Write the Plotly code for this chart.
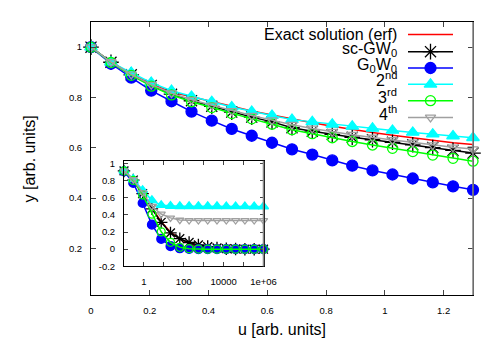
import plotly.graph_objects as go

# ---------------- data ----------------
u_main = [0.000, 0.068, 0.137, 0.205, 0.274, 0.342, 0.411, 0.479, 0.547, 0.616,
          0.684, 0.753, 0.821, 0.889, 0.958, 1.026, 1.095, 1.163, 1.232, 1.300]
exact = [1.000, 0.941, 0.893, 0.854, 0.822, 0.803, 0.783, 0.764, 0.746, 0.730,
         0.714, 0.700, 0.686, 0.673, 0.661, 0.650, 0.639, 0.629, 0.620, 0.613]
sc_gw0 = [1.000, 0.940, 0.890, 0.848, 0.813, 0.787, 0.765, 0.742, 0.722, 0.703,
          0.680, 0.666, 0.653, 0.642, 0.632, 0.622, 0.612, 0.601, 0.590, 0.579]
g0w0 = [1.000, 0.934, 0.879, 0.827, 0.785, 0.744, 0.708, 0.675, 0.648, 0.620,
        0.594, 0.573, 0.550, 0.529, 0.510, 0.494, 0.478, 0.463, 0.447, 0.433]
second = [1.000, 0.940, 0.899, 0.859, 0.827, 0.804, 0.783, 0.762, 0.744, 0.728,
          0.712, 0.703, 0.693, 0.685, 0.677, 0.669, 0.661, 0.654, 0.647, 0.640]
third = [1.000, 0.939, 0.888, 0.845, 0.810, 0.783, 0.760, 0.736, 0.715, 0.694,
         0.672, 0.656, 0.640, 0.625, 0.611, 0.598, 0.585, 0.571, 0.558, 0.547]
fourth = [1.000, 0.941, 0.892, 0.851, 0.817, 0.791, 0.769, 0.747, 0.728, 0.710,
          0.692, 0.677, 0.664, 0.652, 0.641, 0.631, 0.621, 0.611, 0.602, 0.595]

u_inset = [0.1, 0.293, 0.858, 2.51, 7.36, 21.5, 63.1, 185, 541, 1585, 4642,
           13594, 39811, 116591, 341455, 1000000]
exact_in = [0.913, 0.812, 0.645, 0.490, 0.320, 0.200, 0.120, 0.065, 0.035, 0.017,
            0.007, 0.002, 0.0, 0.0, 0.0, 0.0]
sc_gw0_in = [0.913, 0.806, 0.647, 0.470, 0.313, 0.190, 0.122, 0.078, 0.050, 0.030,
             0.015, 0.006, 0.002, 0.0, 0.0, 0.0]
g0w0_in = [0.907, 0.773, 0.539, 0.286, 0.120, 0.035, 0.010, 0.002, 0.0, 0.0,
           0.0, 0.0, 0.0, 0.0, 0.0, 0.0]
second_in = [0.915, 0.818, 0.689, 0.570, 0.513, 0.503, 0.500, 0.500, 0.500, 0.500,
             0.500, 0.499, 0.498, 0.498, 0.497, 0.497]
third_in = [0.912, 0.802, 0.632, 0.409, 0.202, 0.080, 0.022, 0.006, 0.001, 0.0,
            0.0, 0.0, 0.0, 0.0, 0.0, 0.0]
fourth_in = [0.915, 0.812, 0.660, 0.500, 0.410, 0.365, 0.340, 0.335, 0.335, 0.335,
             0.335, 0.335, 0.335, 0.335, 0.335, 0.335]

main_xticks = [0, 0.2, 0.4, 0.6, 0.8, 1.0, 1.2]
main_xtext = ["0", "0.2", "0.4", "0.6", "0.8", "1", "1.2"]
main_yticks = [0.2, 0.4, 0.6, 0.8, 1.0]
main_ytext = ["0.2", "0.4", "0.6", "0.8", "1"]
inset_xticks = [1, 10, 100, 1000, 10000, 100000, 1000000]
inset_xtext = ["1", "", "100", "", "10000", "", "1e+06"]
inset_yticks = [-0.2, 0, 0.2, 0.4, 0.6, 0.8, 1.0]
inset_ytext = ["-0.2", "0", "0.2", "0.4", "0.6", "0.8", "1"]

labels = ["Exact solution (erf)", "sc-GW<sub>0</sub>", "G<sub>0</sub>W<sub>0</sub>",
          "2<sup>nd</sup>", "3<sup>rd</sup>", "4<sup>th</sup>"]

# ---------------- styles ----------------
styles = [
    dict(color="#ff0000", symbol=None, size=0),
    dict(color="#000000", symbol="asterisk-open", size=13),
    dict(color="#0000ff", symbol="circle", size=11),
    dict(color="#00ffff", symbol="triangle-up", size=11),
    dict(color="#00ff00", symbol="circle-open", size=10),
    dict(color="#a0a0a0", symbol="triangle-down-open", size=9),
]
main_series = [exact, sc_gw0, g0w0, second, third, fourth]
inset_series = [exact_in, sc_gw0_in, g0w0_in, second_in, third_in, fourth_in]

FONT = "Liberation Sans, Arial, Helvetica, sans-serif"
fig = go.Figure()


def marker_of(st, scale=1.0):
    if st["symbol"] is None:
        return None
    return dict(symbol=st["symbol"], size=st["size"] * scale, color=st["color"],
                line=dict(color=st["color"], width=1.3))


for ys, st in zip(main_series, styles):
    mode = "lines" if st["symbol"] is None else "lines+markers"
    fig.add_trace(go.Scatter(x=u_main, y=ys, mode=mode, xaxis="x", yaxis="y",
                             line=dict(color=st["color"], width=1.5),
                             marker=marker_of(st), cliponaxis=False, showlegend=False))

for ys, st in zip(inset_series, styles):
    mode = "lines" if st["symbol"] is None else "lines+markers"
    fig.add_trace(go.Scatter(x=u_inset, y=ys, mode=mode, xaxis="x2", yaxis="y2",
                             line=dict(color=st["color"], width=1.5),
                             marker=marker_of(st, 0.8), cliponaxis=False, showlegend=False))

# ---------------- custom legend (text left, sample right) ----------------
# legend laid out on an invisible overlay axis measured in plot-area pixels
leg_rows = [31.7, 49, 65.5, 82, 98.5, 115.5]
leg_text_y = [31.5, 46.5, 62.5, 77, 93.5, 110.5]
leg_x0, leg_x1, leg_text_x = 408, 453, 399
for lab, st, ry, ty in zip(labels, styles, leg_rows, leg_text_y):
    fig.add_trace(go.Scatter(x=[leg_x0, leg_x1], y=[ry, ry], mode="lines",
                             xaxis="x3", yaxis="y3",
                             line=dict(color=st["color"], width=1.5),
                             showlegend=False, hoverinfo="skip"))
    if st["symbol"] is not None:
        fig.add_trace(go.Scatter(x=[(leg_x0 + leg_x1) / 2], y=[ry], mode="markers",
                                 xaxis="x3", yaxis="y3", marker=marker_of(st),
                                 showlegend=False, hoverinfo="skip", cliponaxis=False))
    fig.add_annotation(x=leg_text_x, y=ty, xref="x3", yref="y3", text=lab,
                       showarrow=False, xanchor="right", yanchor="middle",
                       font=dict(size=16, color="black", family=FONT))

axis_common = dict(showline=True, linecolor="black", linewidth=1, mirror="ticks",
                   ticks="inside", showgrid=False, zeroline=False,
                   tickfont=dict(size=9.5, color="black", family=FONT))

fig.update_layout(
    width=490, height=341,
    margin=dict(l=83, r=25, t=11, b=54),
    paper_bgcolor="white", plot_bgcolor="rgba(0,0,0,0)",
    font=dict(family=FONT, color="black"),
    xaxis=dict(range=[0, 1.3], tickvals=main_xticks, ticktext=main_xtext,
               ticklen=5, ticklabelstandoff=7, domain=[0, 1], anchor="y", **axis_common),
    yaxis=dict(range=[0.015, 1.1], tickvals=main_yticks, ticktext=main_ytext,
               ticklen=5, ticklabelstandoff=6, domain=[0, 1], anchor="x", **axis_common),
    xaxis2=dict(type="log", range=[-1, 6.001], tickvals=inset_xticks, ticktext=inset_xtext,
                ticklen=4, ticklabelstandoff=6, domain=[0.0864, 0.4516], anchor="y2",
                **axis_common),
    yaxis2=dict(range=[-0.2, 1.03], tickvals=inset_yticks, ticktext=inset_ytext,
                ticklen=4, ticklabelstandoff=6, domain=[0.1051, 0.4913], anchor="x2",
                **axis_common),
    xaxis3=dict(range=[91, 473], domain=[0, 1], anchor="y3", visible=False,
                fixedrange=True),
    yaxis3=dict(range=[295, 19], domain=[0, 1], anchor="x3", visible=False,
                fixedrange=True),
    shapes=[
        dict(type="line", xref="x domain", yref="y domain", x0=1, x1=1, y0=0, y1=1,
             line=dict(color="#888888", width=1.6), layer="above"),
        dict(type="line", xref="x2 domain", yref="y2 domain", x0=1, x1=1, y0=0, y1=1,
             line=dict(color="#888888", width=1.6), layer="above"),
    ],
    annotations=list(fig.layout.annotations) + [
        dict(text="u [arb. units]", xref="paper", yref="paper", x=0.5, y=-0.127,
             xanchor="center", yanchor="middle", showarrow=False,
             font=dict(size=16, color="black", family=FONT)),
        dict(text="y [arb. units]", xref="paper", yref="paper", x=-0.16, y=0.5,
             xanchor="center", yanchor="middle", textangle=-90, showarrow=False,
             font=dict(size=16, color="black", family=FONT)),
    ],
)

fig.write_html("out.html")
